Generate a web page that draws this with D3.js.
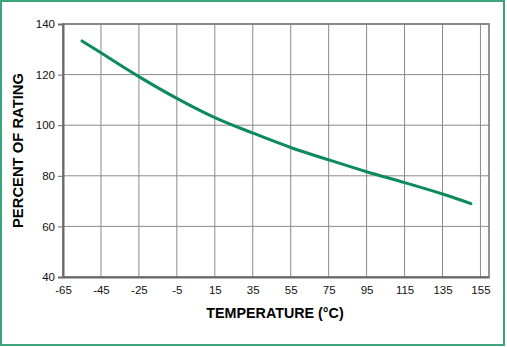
<!DOCTYPE html>
<html>
<head>
<meta charset="utf-8">
<script src="https://cdn.jsdelivr.net/npm/d3@7"></script>
<style>
  html, body { margin: 0; padding: 0; background: #fff; }
  svg { display: block; }
</style>
</head>
<body>
<svg id="chart" width="507" height="347"></svg>
<script>
// Derating curve: percent of rating vs. temperature
const temperatures = [-55, -45, -25, -5, 15, 35, 55, 75, 95, 115, 135, 150];
const percentRating = [133.3, 128.6, 119.2, 110.6, 103.0, 96.9, 91.2, 86.3, 81.6, 77.3, 72.8, 69.0];
const xTicks = [-65, -45, -25, -5, 15, 35, 55, 75, 95, 115, 135, 155];
const yTicks = [40, 60, 80, 100, 120, 140];

const svg = d3.select("#chart");
const W = 507, H = 347;
const m = { left: 63, right: 18, top: 24, bottom: 70 };

const x = d3.scaleLinear().domain([-65, 159.5]).range([m.left, W - m.right]);
const y = d3.scaleLinear().domain([40, 140]).range([H - m.bottom, m.top]);

// outer frame
svg.append("rect")
  .attr("x", 1).attr("y", 1).attr("width", W - 4).attr("height", H - 3)
  .attr("fill", "#fff").attr("stroke", "#3aa47c").attr("stroke-width", 2);

const font = "'Liberation Sans', Arial, sans-serif";

// grid
const grid = svg.append("g");
grid.selectAll("line.v").data(xTicks).join("line")
  .attr("x1", d => x(d)).attr("x2", d => x(d))
  .attr("y1", y(40)).attr("y2", y(140))
  .attr("stroke", "#8a8a8a").attr("stroke-width", 1);
grid.selectAll("line.h").data(yTicks).join("line")
  .attr("x1", x(-65)).attr("x2", x(159.5))
  .attr("y1", d => y(d)).attr("y2", d => y(d))
  .attr("stroke", "#8a8a8a").attr("stroke-width", 1);

// plot frame
svg.append("rect")
  .attr("x", x(-65)).attr("y", y(140))
  .attr("width", x(159.5) - x(-65)).attr("height", y(40) - y(140))
  .attr("fill", "none").attr("stroke", "#7a7a7a").attr("stroke-width", 1.6);

// axes (plain hyphen for negative labels)
const xAxis = d3.axisBottom(x).tickValues(xTicks).tickSize(0).tickPadding(9).tickFormat(d => String(d));
const yAxis = d3.axisLeft(y).tickValues(yTicks).tickSize(5).tickPadding(3).tickFormat(d => String(d));

const gx = svg.append("g").attr("transform", `translate(0,${y(40)})`).call(xAxis);
const gy = svg.append("g").attr("transform", `translate(${x(-65)},0)`).call(yAxis);
[gx, gy].forEach(g => {
  g.select(".domain").attr("stroke", "#6a6a6a").attr("stroke-width", 2);
  g.selectAll(".tick line").attr("stroke", "#6a6a6a");
  g.selectAll(".tick text").attr("fill", "#111").attr("font-family", font).attr("font-size", 11.5);
});

// curve
svg.append("path")
  .datum(temperatures.map((t, i) => [t, percentRating[i]]))
  .attr("fill", "none")
  .attr("stroke", "#0b8a5c")
  .attr("stroke-width", 3)
  .attr("stroke-linecap", "round")
  .attr("d", d3.line().x(d => x(d[0])).y(d => y(d[1])).curve(d3.curveCatmullRom));

// axis titles
svg.append("text")
  .attr("x", 275).attr("y", 318)
  .attr("text-anchor", "middle")
  .attr("font-family", font).attr("font-weight", "bold").attr("font-size", 14.3)
  .attr("fill", "#000")
  .text("TEMPERATURE (°C)");

svg.append("text")
  .attr("transform", `translate(23,${(y(40) + y(140)) / 2}) rotate(-90)`)
  .attr("text-anchor", "middle")
  .attr("font-family", font).attr("font-weight", "bold").attr("font-size", 14.8)
  .attr("fill", "#000")
  .text("PERCENT OF RATING");
</script>
</body>
</html>
